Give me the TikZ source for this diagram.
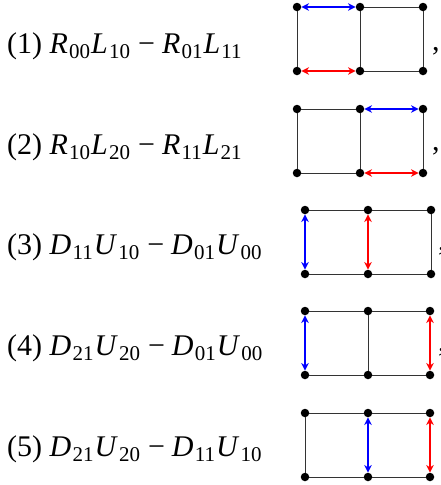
\documentclass[tikz,border=0pt]{standalone}
\usepackage{fontspec}
\setmainfont{Liberation Serif}
\usetikzlibrary{arrows.meta}
\newcommand\Tm[2]{\textit{#1}\kern1.2pt\raisebox{-5.5pt}{\fontsize{21}{21}\selectfont #2}\kern1pt}
\newcommand\Mn{\hspace{7pt}−\hspace{7pt}}
\tikzset{
  dot/.style={circle,fill=black,inner sep=0pt,minimum size=8.5pt},
  edge/.style={black!80,line width=1pt},
  tip/.tip={Stealth[length=7.5pt,width=7.5pt,inset=2.4pt]},
  barrow/.style={blue,line width=1.5pt,tip-tip},
  rarrow/.style={red,line width=1.5pt,tip-tip},
  lab/.style={anchor=base west,inner sep=0pt,font=\fontsize{30}{32}\selectfont},
  commanode/.style={anchor=base west,inner sep=0pt,font=\fontsize{30}{32}\selectfont}
}
\begin{document}
\begin{tikzpicture}[x=1pt,y=-1pt]
\useasboundingbox (0,0) rectangle (440,485);
\clip (0,0) rectangle (440,485);
% labels
\node[lab] (l1) at (7,53)  {(1) \Tm{R}{00}\Tm{L}{10}\Mn\Tm{R}{01}\Tm{L}{11}};
\node[lab] (l2) at (7,154) {(2) \Tm{R}{10}\Tm{L}{20}\Mn\Tm{R}{11}\Tm{L}{21}};
\node[lab] (l3) at (7,254) {(3) \Tm{D}{11}\Tm{U}{10}\Mn\Tm{D}{01}\Tm{U}{00}};
\node[lab] (l4) at (7,355) {(4) \Tm{D}{21}\Tm{U}{20}\Mn\Tm{D}{01}\Tm{U}{00}};
\node[lab] (l5) at (7,456) {(5) \Tm{D}{21}\Tm{U}{20}\Mn\Tm{D}{11}\Tm{U}{10}};
% diagram 1
\node[dot] (a1) at (297,7) {}; \node[dot] (b1) at (360,7) {}; \node[dot] (c1) at (423,7) {};
\node[dot] (d1) at (297,71) {}; \node[dot] (e1) at (360,71) {}; \node[dot] (f1) at (423,71) {};
\draw[edge] (a1)--(d1) (b1)--(e1) (c1)--(f1) (b1)--(c1) (e1)--(f1);
\draw[barrow] (a1)--(b1);
\draw[rarrow] (d1)--(e1);
\node[commanode] (k1) at (432,50) {,};
% diagram 2
\node[dot] (a2) at (297,109) {}; \node[dot] (b2) at (360,109) {}; \node[dot] (c2) at (423,109) {};
\node[dot] (d2) at (297,173) {}; \node[dot] (e2) at (360,173) {}; \node[dot] (f2) at (423,173) {};
\draw[edge] (a2)--(d2) (b2)--(e2) (c2)--(f2) (a2)--(b2) (d2)--(e2);
\draw[barrow] (b2)--(c2);
\draw[rarrow] (e2)--(f2);
\node[commanode] (k2) at (432,150) {,};
% diagram 3
\node[dot] (a3) at (305,210) {}; \node[dot] (b3) at (368,210) {}; \node[dot] (c3) at (431,210) {};
\node[dot] (d3) at (305,274) {}; \node[dot] (e3) at (368,274) {}; \node[dot] (f3) at (431,274) {};
\draw[edge] (a3)--(b3)--(c3)--(f3)--(e3)--(d3);
\draw[barrow] (a3)--(d3);
\draw[rarrow] (b3)--(e3);
\node[commanode] (k3) at (438,250) {,};
% diagram 4
\node[dot] (a4) at (305,311) {}; \node[dot] (b4) at (368,311) {}; \node[dot] (c4) at (430,311) {};
\node[dot] (d4) at (305,375) {}; \node[dot] (e4) at (368,375) {}; \node[dot] (f4) at (430,375) {};
\draw[edge] (a4)--(b4)--(c4) (d4)--(e4)--(f4) (b4)--(e4);
\draw[barrow] (a4)--(d4);
\draw[rarrow] (c4)--(f4);
\node[commanode] (k4) at (438,351) {,};
% diagram 5
\node[dot] (a5) at (305,413) {}; \node[dot] (b5) at (368,413) {}; \node[dot] (c5) at (430,413) {};
\node[dot] (d5) at (305,477) {}; \node[dot] (e5) at (368,477) {}; \node[dot] (f5) at (430,477) {};
\draw[edge] (a5)--(b5)--(c5) (d5)--(e5)--(f5) (a5)--(d5);
\draw[barrow] (b5)--(e5);
\draw[rarrow] (c5)--(f5);
\end{tikzpicture}
\end{document}
